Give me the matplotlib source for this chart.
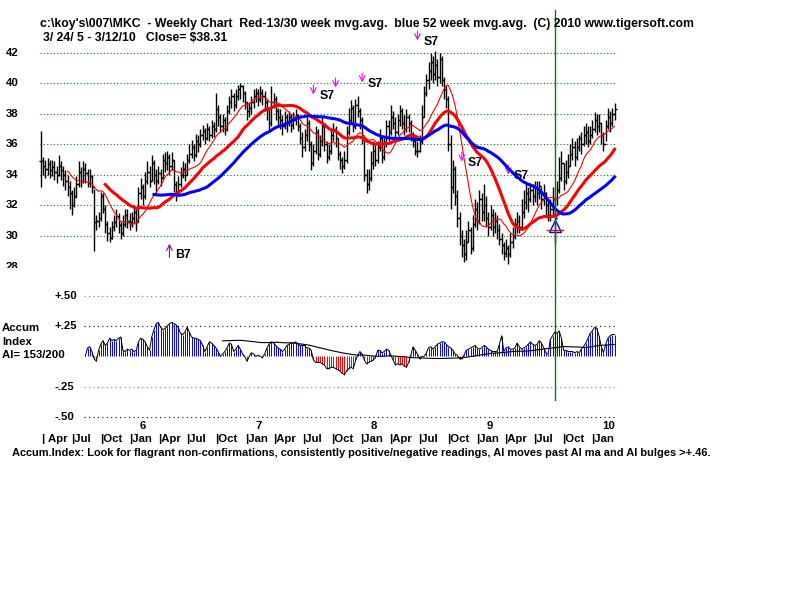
import numpy as np
import pandas as pd
import matplotlib
matplotlib.use('Agg')
import matplotlib.pyplot as plt
from matplotlib.transforms import blended_transform_factory

plt.rcParams['font.family'] = ['Liberation Sans', 'DejaVu Sans']
plt.rcParams['font.weight'] = 'bold'

# weekly bars, week 0 = 3/24/05 ... week 259 = 3/12/10
start_date = '2005-03-24'
wk_close = [
    34.9, 34.6, 34.4, 34.7, 34.3, 34.5, 34.2, 34.0, 34.6, 34.3, 34.0,
    33.6, 33.2, 32.8, 32.0, 32.6, 33.4,
    34.2, 33.6, 34.4, 34.1, 33.5, 33.9, 33.2,
    30.9, 31.0, 31.2, 32.6, 31.8, 30.8, 30.2, 29.9,
    30.6, 30.9, 31.3, 30.7, 30.2, 30.8, 31.4, 31.0,
    30.9, 31.2, 31.6, 30.9, 32.8, 33.2, 32.6, 33.6,
    34.2, 33.6, 34.8, 34.0, 33.6, 34.1, 33.8, 35.0,
    34.8, 35.2, 34.6, 35.0, 33.4, 32.8, 33.4, 34.0,
    34.4, 34.0, 35.0, 35.4, 35.8, 35.3, 36.2, 36.0,
    36.6, 36.9, 36.4, 37.0, 36.6, 37.2, 37.0, 38.3,
    37.8, 37.2, 37.6, 37.0, 38.2, 38.8, 39.2, 38.6,
    39.2, 39.6, 39.8, 39.4, 38.8, 38.2, 38.4, 38.8,
    39.2, 39.4, 39.0, 39.4, 39.2, 38.8, 38.3, 37.4,
    38.8, 39.0, 38.2, 37.8, 37.6, 37.2, 37.8, 37.4,
    37.8, 37.3, 37.6, 37.9, 37.2, 36.4, 35.8, 36.6,
    37.4, 36.0, 34.8, 35.6, 36.8, 35.4, 36.2, 37.2,
    36.0, 35.2, 35.6, 36.6, 37.0, 36.4, 35.4, 35.0,
    34.6, 35.0, 36.8, 37.6, 38.4, 37.2, 38.6, 38.2,
    37.6, 36.4, 34.0, 33.4, 33.8, 34.8, 35.6, 35.0,
    35.8, 36.4, 35.2, 36.0, 37.2, 36.8, 37.8, 37.4,
    36.8, 37.6, 38.2, 37.4, 37.0, 37.8, 37.4, 36.6,
    36.2, 35.6, 35.6, 36.2, 37.8, 39.4, 40.2, 40.8,
    41.4, 40.6, 41.2, 40.4, 41.6, 40.2, 39.6, 39.0,
    36.0, 33.2, 34.4, 32.6, 31.2, 30.0, 29.4, 28.8,
    29.6, 30.4, 29.2, 30.8, 31.8, 31.0, 32.4, 31.6,
    32.0, 31.2, 30.6, 31.4, 30.6, 31.0, 30.4, 29.8,
    29.4, 28.9, 29.2, 28.8, 29.6, 30.0, 30.8, 31.0,
    30.6, 31.6, 32.2, 32.8, 32.4, 33.0, 32.6, 33.2,
    32.8, 33.3, 32.4, 32.8, 32.0, 31.4, 31.8, 32.4,
    31.2, 33.0, 33.8, 34.8, 33.6, 34.2, 34.6, 35.4,
    35.8, 35.2, 35.8, 36.4, 36.0, 36.6, 36.8, 36.2,
    36.6, 37.0, 37.6, 37.2, 37.4, 36.6, 36.0, 37.2,
    37.8, 37.4, 38.0, 38.31,
]
wk_high = [
    36.9, 35.2, 35.0, 35.1, 35.0, 35.0, 34.9, 34.6, 35.3, 34.9, 34.6,
    34.3, 34.0, 33.6, 33.0, 33.2, 33.9,
    34.9, 34.5, 34.9, 34.8, 34.4, 34.4, 34.0,
    33.1, 31.4, 31.6, 32.9, 32.8, 32.0, 31.0, 30.6,
    31.0, 31.4, 31.8, 31.5, 30.9, 31.4, 31.8, 31.8,
    31.5, 31.6, 32.0, 31.9, 33.2, 33.8, 33.4, 34.2,
    34.9, 34.6, 35.3, 35.0, 34.4, 34.6, 34.4, 35.4,
    35.5, 35.6, 35.4, 35.5, 35.0, 33.6, 33.9, 34.5,
    34.9, 34.8, 35.4, 36.0, 36.3, 36.0, 36.7, 36.6,
    37.0, 37.3, 37.1, 37.4, 37.2, 37.6, 37.5, 39.4,
    38.6, 38.0, 38.0, 37.8, 38.6, 39.2, 39.6, 39.4,
    39.6, 39.9, 40.0, 39.9, 39.5, 38.8, 38.8, 39.2,
    39.6, 39.7, 39.6, 39.8, 39.6, 39.5, 39.0, 38.4,
    39.8, 39.4, 39.2, 38.4, 38.3, 37.9, 38.2, 38.0,
    38.2, 38.0, 38.1, 38.3, 38.0, 37.4, 36.8, 37.0,
    37.8, 37.6, 36.2, 36.0, 37.2, 37.0, 36.6, 37.8,
    37.4, 36.2, 36.0, 37.0, 37.4, 37.2, 36.4, 35.6,
    35.2, 35.6, 37.2, 38.4, 38.9, 38.6, 39.0, 39.2,
    38.4, 37.8, 36.6, 34.4, 34.4, 35.6, 36.2, 36.0,
    36.2, 37.0, 36.4, 36.4, 37.6, 37.6, 38.6, 38.2,
    37.8, 38.0, 38.6, 38.4, 37.9, 38.3, 38.0, 37.6,
    36.8, 36.4, 36.2, 36.6, 38.6, 39.8, 40.6, 41.4,
    42.0, 41.8, 42.1, 41.6, 42.0, 41.8, 40.4, 39.8,
    39.2, 36.6, 35.0, 34.6, 33.0, 31.6, 30.4, 29.8,
    30.4, 31.0, 30.6, 31.4, 32.4, 32.2, 33.0, 32.8,
    33.4, 32.6, 31.6, 32.0, 31.8, 31.6, 31.4, 30.8,
    30.2, 29.6, 29.8, 29.4, 30.2, 30.6, 31.2, 31.6,
    31.4, 32.4, 33.0, 33.5, 33.2, 33.5, 33.4, 33.6,
    33.6, 33.6, 33.2, 33.4, 32.9, 32.2, 32.4, 33.2,
    32.6, 33.6, 35.2, 35.6, 34.8, 35.0, 35.4, 36.0,
    36.4, 36.2, 36.4, 36.6, 36.8, 37.2, 37.4, 37.2,
    37.2, 37.6, 38.1, 38.0, 38.0, 37.4, 36.8, 37.6,
    38.4, 38.2, 38.4, 38.7,
]
wk_low = [
    33.2, 34.0, 33.8, 34.0, 33.8, 33.9, 33.7, 33.5, 33.9, 33.7, 33.3,
    33.0, 32.6, 31.8, 31.4, 31.9, 32.5,
    33.2, 33.2, 33.5, 33.5, 33.2, 33.2, 32.8,
    29.0, 30.4, 30.6, 31.0, 31.5, 30.2, 29.7, 29.6,
    29.8, 30.3, 30.6, 30.2, 29.8, 30.0, 30.6, 30.5,
    30.4, 30.6, 30.8, 30.3, 30.9, 32.4, 32.0, 32.4,
    33.4, 33.2, 33.6, 33.4, 32.8, 33.4, 33.3, 33.8,
    34.2, 34.3, 34.0, 34.3, 32.9, 32.3, 32.6, 33.2,
    33.8, 33.6, 34.0, 34.8, 35.1, 34.9, 35.2, 35.5,
    35.8, 36.3, 36.0, 36.3, 36.2, 36.4, 36.5, 36.8,
    37.2, 36.8, 36.8, 36.6, 36.9, 38.0, 38.4, 38.2,
    38.4, 38.9, 39.0, 38.8, 38.3, 37.6, 37.8, 38.0,
    38.4, 38.8, 38.5, 38.8, 38.6, 38.2, 37.6, 36.8,
    37.2, 38.4, 37.6, 37.2, 37.0, 36.6, 37.0, 36.8,
    37.2, 36.8, 37.0, 37.3, 36.9, 36.0, 35.2, 35.6,
    36.2, 35.6, 34.3, 34.6, 35.4, 35.0, 35.2, 35.9,
    35.6, 34.8, 35.0, 35.4, 36.2, 35.8, 35.0, 34.4,
    34.1, 34.4, 34.8, 36.6, 37.4, 36.8, 37.0, 37.8,
    37.0, 36.0, 33.6, 32.8, 33.0, 33.6, 34.4, 34.6,
    34.8, 35.6, 34.8, 35.0, 35.8, 36.2, 36.6, 37.0,
    36.4, 36.6, 37.2, 37.0, 36.6, 36.8, 36.8, 36.2,
    35.8, 35.3, 35.2, 35.5, 36.0, 37.8, 39.2, 39.6,
    40.2, 40.0, 40.2, 39.8, 40.0, 39.8, 39.0, 38.4,
    35.6, 31.8, 32.8, 32.0, 30.6, 29.4, 28.6, 28.3,
    28.4, 29.6, 28.8, 29.0, 30.6, 30.4, 30.8, 31.0,
    31.0, 30.6, 30.0, 30.4, 30.0, 30.2, 29.8, 29.4,
    28.8, 28.4, 28.6, 28.2, 28.6, 29.2, 29.8, 30.2,
    30.2, 30.4, 31.2, 31.8, 31.6, 32.2, 32.0, 32.2,
    32.0, 32.4, 31.8, 32.0, 31.4, 31.0, 31.0, 31.4,
    29.5, 32.0, 32.8, 33.6, 33.0, 33.4, 33.8, 34.6,
    35.0, 34.6, 35.0, 35.6, 35.4, 35.9, 36.0, 35.8,
    36.0, 36.4, 36.8, 36.6, 36.8, 36.0, 35.6, 36.2,
    37.0, 36.8, 37.2, 37.6,
]

# Accumulation Index, weeks 20..259
ai_first_week = 20
accum_index = [
    0.00, 0.07, 0.08, 0.04, -0.02, -0.04, 0.05, 0.10, 0.13, 0.09,
    0.11, 0.15, 0.13, 0.14, 0.13, 0.15, 0.16, 0.05, 0.04, 0.06,
    0.05, 0.06, 0.04, 0.05, 0.12, 0.15, 0.14, 0.12, 0.08, 0.05,
    0.16, 0.22, 0.27, 0.28, 0.24, 0.22, 0.23, 0.25, 0.27, 0.28,
    0.27, 0.26, 0.24, 0.19, 0.18, 0.20, 0.24, 0.20, 0.16, 0.15,
    0.15, 0.14, 0.13, 0.09, 0.04, 0.08, 0.12, 0.11, 0.09, 0.07,
    0.04, 0.00, 0.02, 0.04, 0.07, 0.11, 0.10, 0.04, 0.06, 0.09,
    0.06, 0.02, 0.00, -0.04, 0.00, 0.03, 0.02, 0.00, 0.01, 0.00,
    -0.01, 0.02, 0.07, 0.10, 0.12, 0.11, 0.09, 0.07, 0.06, 0.04,
    0.06, 0.09, 0.10, 0.11, 0.11, 0.12, 0.10, 0.09, 0.09, 0.09,
    0.07, 0.07, 0.05, -0.03, -0.05, -0.05, -0.05, -0.06, -0.07, -0.10,
    -0.10, -0.09, -0.09, -0.10, -0.11, -0.12, -0.14, -0.15, -0.12, -0.10,
    -0.09, -0.10, -0.04, 0.01, 0.04, 0.02, -0.03, -0.06, -0.05, -0.04,
    -0.03, -0.01, 0.05, 0.05, 0.03, 0.04, 0.06, 0.05, 0.01, -0.03,
    -0.07, -0.06, -0.07, -0.06, -0.08, -0.09, -0.05, 0.01, 0.08, 0.05,
    0.02, -0.02, 0.00, 0.00, 0.03, 0.07, 0.08, 0.06, 0.08, 0.10,
    0.11, 0.12, 0.12, 0.10, 0.08, 0.07, 0.05, 0.02, 0.01, -0.02,
    -0.02, 0.01, 0.05, 0.06, 0.07, 0.08, 0.09, 0.07, 0.06, 0.07,
    0.09, 0.08, 0.06, 0.05, 0.04, 0.04, 0.04, 0.10, 0.17, 0.04,
    0.07, 0.08, 0.06, 0.06, 0.07, 0.11, 0.08, 0.06, 0.07, 0.08,
    0.10, 0.12, 0.10, 0.09, 0.10, 0.13, 0.11, 0.07, 0.03, 0.02,
    0.14, 0.17, 0.20, 0.19, 0.21, 0.15, 0.05, 0.05, 0.04, 0.04,
    0.04, 0.03, 0.04, 0.03, 0.06, 0.08, 0.11, 0.15, 0.19, 0.21,
    0.24, 0.23, 0.17, 0.08, 0.03, 0.10, 0.15, 0.17, 0.18, 0.18,
]

# signals: week index and label
sell_weeks = [170, 123, 133, 145, 190, 211]
sell_labels = ['S7', 'S7', '', 'S7', 'S7', 'S7']
buy_week = 58
marker_week = 232

month_names = ['Apr', 'Jul', 'Oct', 'Jan'] * 5
month_dates = pd.date_range('2005-04-01', periods=20, freq='3MS')
year_labels = ['6', '7', '8', '9', '10']
year_dates = pd.to_datetime(['2006-01-01', '2007-01-01', '2008-01-01',
                             '2009-01-01', '2010-01-01'])

title1 = ("c:\\koy's\\007\\MKC  - Weekly Chart  Red-13/30 week mvg.avg.  "
          "blue 52 week mvg.avg.  (C) 2010 www.tigersoft.com")
title2 = "3/ 24/ 5 - 3/12/10   Close= $38.31"
footer = ("Accum.Index: Look for flagrant non-confirmations, consistently "
          "positive/negative readings, AI moves past AI ma and AI bulges >+.46.")

# ---------------------------------------------------------------
W, H = 800, 600
fig = plt.figure(figsize=(W / 100, H / 100), dpi=100)


def box(left, top, right, bottom):
    return [left / W, 1 - bottom / H, (right - left) / W, (bottom - top) / H]


ax = fig.add_axes(box(0, 30, 619, 268))
ax_ai = fig.add_axes(box(0, 285, 619, 425))
for a in (ax, ax_ai):
    a.set_xlim(-18.52, 261.0)
    a.axis('off')
ax.set_ylim(27.907, 43.493)
ax_ai.set_ylim(-0.565, 0.588)

weeks = np.arange(len(wk_close))
close = np.array(wk_close)
high = np.array(wk_high)
low = np.array(wk_low)
opn = np.concatenate([[close[0]], close[:-1]])

fs = 8.2
# price grid + labels
ax.hlines(np.arange(30, 43, 2), -0.5, 259.5, colors='#008000',
          linestyles=(0, (1, 2)), lw=0.8, zorder=1)
for v in range(42, 27, -2):
    ax.text(-15.8, v, str(v), va='center', ha='left', fontsize=fs, clip_on=True)

# weekly bars
ax.vlines(weeks, low, high, colors='black', lw=1.0, zorder=2)
ax.hlines(close, weeks, weeks + 0.9, colors='black', lw=1.0, zorder=2)
ax.hlines(opn, weeks - 0.9, weeks, colors='black', lw=1.0, zorder=2)

s = pd.Series(close)
ax.plot(weeks, s.rolling(13).mean(), color='#ff0000', lw=0.8, zorder=3)
ax.plot(weeks, s.rolling(30).mean(), color='#ff0000', lw=2.2, zorder=4)
ax.plot(weeks, s.rolling(52).mean(), color='#0000ff', lw=2.2, zorder=4)

# signals
arrow_tops = [43.43, 39.89, 40.35, 40.68, 35.5, 34.65]
for wk, lbl, top in zip(sell_weeks, sell_labels, arrow_tops):
    ax.annotate('', xy=(wk, top - 0.62), xytext=(wk, top),
                arrowprops=dict(arrowstyle='->', color='#ff00ff', lw=0.8,
                                shrinkA=0, shrinkB=0),
                annotation_clip=False)
    if lbl:
        ax.text(wk + 2.6, top - 0.72, lbl, fontsize=8.8, va='center',
                ha='left', clip_on=False, zorder=2.5)
ax.annotate('', xy=(buy_week, 29.5), xytext=(buy_week, 28.6),
            arrowprops=dict(arrowstyle='->', color='#9900aa', lw=0.8,
                            shrinkA=0, shrinkB=0), annotation_clip=False)
ax.text(buy_week + 2.6, 28.76, 'B7', fontsize=8.8, va='center', ha='left')

ax.plot([marker_week], [30.66], marker='^', ms=9, mfc='none', mec='#0000ff',
        mew=1.0, zorder=5)
ax.plot([marker_week - 3.6, marker_week + 3.6], [30.42, 30.42],
        color='#ff0000', lw=1.0, zorder=5)

ax.axvline(marker_week, ymin=(268 - 400) / 238, ymax=(268 - 10) / 238,
           color='#008000', lw=1.0, clip_on=False, zorder=6)

# accumulation index panel
ai = np.array(accum_index)
ai_weeks = np.arange(ai_first_week, ai_first_week + len(ai))
ai_colors = np.where(ai >= 0, '#0000ff', '#ff0000')
ax_ai.vlines(ai_weeks, 0, ai, colors=ai_colors, lw=0.7)
ax_ai.plot(ai_weeks, ai, color='black', lw=0.7)
ax_ai.plot(ai_weeks, pd.Series(ai).rolling(63).mean(), color='black', lw=0.8)
grid_cols = {0.5: '#cc44cc', 0.25: 'black', -0.25: '#cc44cc', -0.5: 'black'}
for v, c in grid_cols.items():
    ax_ai.hlines(v, 19.5, 259.5, colors=c, linestyles=(0, (1, 3)), lw=0.8)
for v, lbl in [(0.5, '+.50'), (0.25, '+.25'), (-0.25, '-.25'), (-0.5, '-.50')]:
    ax_ai.text(6.3, v, lbl, va='center', ha='left', fontsize=fs)

fig.text(2 / W, 1 - 328 / H, 'Accum', fontsize=fs, va='center')
fig.text(2 / W, 1 - 342 / H, 'Index', fontsize=fs, va='center')
fig.text(2 / W, 1 - 355 / H, 'AI= 153/200', fontsize=fs, va='center')

# date axis
t0 = pd.Timestamp(start_date)
tr = blended_transform_factory(ax_ai.transData, fig.transFigure)
for i, (name, d) in enumerate(zip(month_names, month_dates)):
    wk = (d - t0).days / 7
    lbl = '| ' + name if i == 0 else '|' + name
    fig.text(wk - 0.6, 1 - 439 / H, lbl, transform=tr, fontsize=fs,
             va='center', ha='left')
for name, d in zip(year_labels, year_dates):
    wk = (d - t0).days / 7
    fig.text(wk + 4.3, 1 - 426 / H, name, transform=tr, fontsize=fs,
             va='center', ha='left')

fig.text(40 / W, 1 - 24 / H, title1, fontsize=8.8, va='center')
fig.text(43 / W, 1 - 38 / H, title2, fontsize=8.8, va='center')
fig.text(12 / W, 1 - 453 / H, footer, fontsize=7.9, va='center')

fig.savefig('out.png', dpi=100)
